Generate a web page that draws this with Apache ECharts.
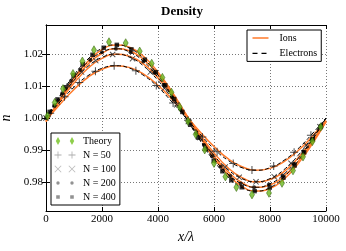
<!DOCTYPE html>
<html><head><meta charset="utf-8">
<script src="https://cdn.jsdelivr.net/npm/echarts@6/dist/echarts.min.js"></script>
<style>html,body{margin:0;padding:0;background:#fff}#c{width:346px;height:251px}</style>
</head><body><div id="c"></div>
<script>
// ---- data ----
const xGrid = [0,500,1000,1500,2000,2500,3000,3500,4000,4500,5000,5500,6000,6500,7000,7500,8000,8500,9000,9500,10000];

const electronsN50  = [1.0000,1.0050,1.0096,1.0132,1.0155,1.0163,1.0155,1.0132,1.0096,1.0050,1.0000,0.9950,0.9904,0.9868,0.9845,0.9837,0.9845,0.9868,0.9904,0.9950,1.0000];
const electronsN100 = [1.0000,1.0061,1.0117,1.0161,1.0189,1.0199,1.0189,1.0161,1.0117,1.0061,1.0000,0.9939,0.9883,0.9839,0.9811,0.9801,0.9811,0.9839,0.9883,0.9939,1.0000];
const electronsN200 = [1.0000,1.0067,1.0127,1.0175,1.0205,1.0216,1.0205,1.0175,1.0127,1.0067,1.0000,0.9933,0.9873,0.9825,0.9795,0.9784,0.9795,0.9825,0.9873,0.9933,1.0000];
const electronsN400 = [1.0000,1.0070,1.0134,1.0184,1.0217,1.0228,1.0217,1.0184,1.0134,1.0070,1.0000,0.9930,0.9866,0.9816,0.9783,0.9772,0.9783,0.9816,0.9866,0.9930,1.0000];

const ionsN50  = [0.9992,1.0043,1.0089,1.0127,1.0152,1.0163,1.0157,1.0136,1.0102,1.0058,1.0008,0.9957,0.9911,0.9873,0.9848,0.9837,0.9843,0.9864,0.9898,0.9942,0.9992];
const ionsN100 = [0.9990,1.0052,1.0109,1.0155,1.0186,1.0199,1.0192,1.0167,1.0125,1.0071,1.0010,0.9948,0.9891,0.9845,0.9814,0.9801,0.9808,0.9833,0.9875,0.9929,0.9990];
const ionsN200 = [0.9989,1.0056,1.0118,1.0168,1.0202,1.0216,1.0209,1.0181,1.0136,1.0077,1.0011,0.9944,0.9882,0.9832,0.9798,0.9784,0.9791,0.9819,0.9864,0.9923,0.9989];
const ionsN400 = [0.9989,1.0059,1.0125,1.0177,1.0213,1.0228,1.0220,1.0191,1.0143,1.0082,1.0011,0.9941,0.9875,0.9823,0.9787,0.9772,0.9780,0.9809,0.9857,0.9918,0.9989];

const theoryX = [50,311,607,964,1300,1714,2250,2846,3346,3775,4157,4479,4775,5071,5346,5668,6000,6407,6800,7357,7964,8429,8821,9179,9514,9811];
const theoryY = [1.0006,1.0048,1.0091,1.0138,1.0177,1.0212,1.0237,1.0234,1.0208,1.0170,1.0126,1.0080,1.0034,0.9990,0.9949,0.9901,0.9859,0.9817,0.9784,0.9761,0.9766,0.9797,0.9836,0.9879,0.9927,0.9972];

const markN50X = [150,662,1189,1765,2434,3210,3939,4539,5072,5584,6111,6687,7356,8132,8861,9461];
const markN50Y = [1.0015,1.0066,1.0111,1.0146,1.0163,1.0147,1.0101,1.0047,0.9993,0.9941,0.9895,0.9858,0.9838,0.9850,0.9893,0.9946];
const markN100X = [0,408,825,1272,1777,2381,3091,3724,4229,4670,5084,5496,5907,6400,6900,7500,8150,8750,9300,9780];
const markN100Y = [1.0000,1.0050,1.0099,1.0143,1.0179,1.0198,1.0185,1.0143,1.0093,1.0041,0.9989,0.9939,0.9893,0.9847,0.9815,0.9801,0.9817,0.9859,0.9915,0.9973];
const markN200X = [0,290,580,890,1220,1580,2000,2500,3020,3480,3870,4200,4510,4800,5080,5360,5640,5930,6240,6580,6960,7430,7960,8450,8850,9190,9500,9790];
const markN200Y = [1.0000,1.0039,1.0077,1.0115,1.0150,1.0181,1.0205,1.0216,1.0205,1.0176,1.0141,1.0104,1.0065,1.0027,0.9989,0.9952,0.9916,0.9881,0.9848,0.9819,0.9796,0.9784,0.9793,0.9821,0.9857,0.9895,0.9933,0.9972];
const markN400X = [130,410,695,990,1310,1660,2060,2530,3050,3530,3920,4260,4580,4870,5150,5430,5700,5990,6300,6620,6990,7450,7990,8480,8880,9220,9530,9820];
const markN400Y = [1.0019,1.0058,1.0096,1.0133,1.0167,1.0197,1.0219,1.0228,1.0214,1.0182,1.0143,1.0102,1.0059,1.0019,0.9979,0.9939,0.9903,0.9867,0.9834,0.9806,0.9784,0.9772,0.9783,0.9814,0.9852,0.9893,0.9934,0.9974];

const xTicks = [0,2000,4000,6000,8000,10000];
const yTicks = [0.98,0.99,1.00,1.01,1.02];

// ---- chart ----
const FONT = "'Liberation Serif','DejaVu Serif',serif";
const ORANGE = '#ff7a2a';
const pair = (xs, ys) => xs.map((x, i) => [x, ys[i]]);
const gridPair = ys => xGrid.map((x, i) => [x, ys[i]]);

const PLUS = 'path://M3.5,0h1v8h-1z M0,3.5h8v1h-8z';

const ionsSets = [ionsN50, ionsN100, ionsN200, ionsN400];
const elecSets = [electronsN50, electronsN100, electronsN200, electronsN400];

const series = [];
ionsSets.forEach(ys => series.push({
  type: 'line', name: 'Ions', data: gridPair(ys), smooth: 0.5, symbol: 'none',
  color: ORANGE, lineStyle: {color: ORANGE, width: 1.5}, z: 2, silent: true
}));
elecSets.forEach(ys => series.push({
  type: 'line', name: 'Electrons', data: gridPair(ys), smooth: 0.5, symbol: 'none',
  color: '#000', lineStyle: {color: '#000', width: 1, type: [4, 2.5]}, z: 3, silent: true
}));
series.push({type: 'scatter', name: 'N = 50', data: pair(markN50X, markN50Y), symbol: PLUS, symbolSize: 8,
  itemStyle: {color: '#222'}, z: 4, silent: true});
series.push({type: 'scatter', name: 'N = 100', data: pair(markN100X, markN100Y), symbol: PLUS, symbolSize: 7.5, symbolRotate: 45,
  itemStyle: {color: '#222'}, z: 4, silent: true});
series.push({type: 'scatter', name: 'N = 200', data: pair(markN200X, markN200Y), symbol: 'circle', symbolSize: 4,
  itemStyle: {color: '#000'}, z: 4, silent: true});
series.push({type: 'scatter', name: 'N = 400', data: pair(markN400X, markN400Y), symbol: 'rect', symbolSize: 4.5,
  itemStyle: {color: '#000'}, z: 4, silent: true});
series.push({type: 'scatter', name: 'Theory', data: pair(theoryX, theoryY), symbol: 'diamond', symbolSize: [5, 8.5],
  itemStyle: {color: '#6cb81e', borderColor: '#2d5a06', borderWidth: 0.6}, z: 5, silent: true});

const B1 = 'M0,0M16,12';
const B2 = 'M0,0M22,8';
const legendText = {fontFamily: FONT, fontSize: 10, color: '#000', lineHeight: 12};

const option = {
  animation: false,
  backgroundColor: '#fff',
  title: {text: 'Density', left: 161, top: 5, padding: 0,
    textStyle: {fontFamily: FONT, fontWeight: 'bold', fontSize: 13, color: '#000'}},
  grid: {left: 46, right: 20, top: 25, bottom: 40, containLabel: false, outerBoundsMode: 'none'},
  xAxis: [{
    type: 'value', min: 0, max: 10000, interval: 2000,
    name: 'x/λ', nameLocation: 'middle', nameGap: 18,
    nameTextStyle: {fontFamily: FONT, fontStyle: 'italic', fontSize: 14, color: '#000'},
    axisLine: {show: true, lineStyle: {color: '#000', width: 1}},
    axisTick: {show: true, inside: true, length: 4, lineStyle: {color: '#000'}},
    axisLabel: {fontFamily: FONT, fontSize: 11, color: '#000', margin: 3, formatter: v => String(v)},
    splitLine: {show: true, lineStyle: {color: '#777', width: 1, type: [1, 2]}}
  }, {
    type: 'value', min: 0, max: 10000, interval: 2000, position: 'top',
    axisLine: {show: true, lineStyle: {color: '#000', width: 1}},
    axisTick: {show: true, inside: true, length: 4, lineStyle: {color: '#000'}},
    axisLabel: {show: false}, splitLine: {show: false}
  }],
  yAxis: [{
    type: 'value', min: 0.971, max: 1.029,
    name: 'n', nameLocation: 'middle', nameGap: 24, nameRotate: 90,
    nameTextStyle: {fontFamily: FONT, fontStyle: 'italic', fontSize: 14, color: '#000'},
    axisLine: {show: true, lineStyle: {color: '#000', width: 1}},
    axisTick: {show: true, inside: true, length: 4, customValues: yTicks, lineStyle: {color: '#000'}},
    axisLabel: {fontFamily: FONT, fontSize: 11, color: '#000', margin: 3, customValues: yTicks,
      formatter: v => Number(v).toFixed(2)},
    splitLine: {show: true, lineStyle: {color: '#777', width: 1, type: [1, 2]}}
  }, {
    type: 'value', min: 0.971, max: 1.029, position: 'right',
    axisLine: {show: true, lineStyle: {color: '#000', width: 1}},
    axisTick: {show: true, inside: true, length: 4, customValues: yTicks, lineStyle: {color: '#000'}},
    axisLabel: {show: false}, splitLine: {show: false}
  }],
  legend: [{
    orient: 'vertical', left: 247, top: 30,
    itemWidth: 16, itemHeight: 12, itemGap: 3.4, padding: [2, 4, 2, 5.5],
    borderColor: '#000', borderWidth: 1, backgroundColor: '#fff', borderRadius: 0,
    textStyle: Object.assign({padding: [0, 0, 0, 6]}, legendText),
    selectedMode: false,
    data: [
      {name: 'Ions', icon: 'path://' + B1 + 'M0,5.25h16v1.5h-16z', itemStyle: {color: ORANGE, borderWidth: 0}},
      {name: 'Electrons', icon: 'path://' + B1 + 'M0,5.4h5v1.2h-5z M9,5.4h5v1.2h-5z', itemStyle: {color: '#000', borderWidth: 0}}
    ]
  }, {
    orient: 'vertical', left: 51, top: 133,
    itemWidth: 22, itemHeight: 8, itemGap: 2, padding: [2, 4, 2, 3],
    borderColor: '#000', borderWidth: 1, backgroundColor: '#fff', borderRadius: 0,
    textStyle: Object.assign({padding: [0, 0, 0, 2]}, legendText),
    selectedMode: false,
    data: [
      {name: 'Theory', icon: 'path://' + B2 + 'M4,0L6.2,4L4,8L1.8,4Z M18,0L20.2,4L18,8L15.8,4Z',
        itemStyle: {color: '#72c21e', borderWidth: 0}},
      {name: 'N = 50', icon: 'path://' + B2 + 'M3.6,0.5h0.8v7h-0.8z M0.5,3.6h7v0.8h-7z M17.6,0.5h0.8v7h-0.8z M14.5,3.6h7v0.8h-7z',
        itemStyle: {color: '#999', borderWidth: 0}},
      {name: 'N = 100', icon: 'path://' + B2 + 'M0.5,1.1L1.1,0.5L7.5,6.9L6.9,7.5Z M6.9,0.5L7.5,1.1L1.1,7.5L0.5,6.9Z M14.5,1.1L15.1,0.5L21.5,6.9L20.9,7.5Z M20.9,0.5L21.5,1.1L15.1,7.5L14.5,6.9Z',
        itemStyle: {color: '#aaa', borderWidth: 0}},
      {name: 'N = 200', icon: 'path://' + B2 + 'M2.3,4a1.7,1.7 0 1,0 3.4,0a1.7,1.7 0 1,0 -3.4,0Z M16.3,4a1.7,1.7 0 1,0 3.4,0a1.7,1.7 0 1,0 -3.4,0Z',
        itemStyle: {color: '#777', borderWidth: 0}},
      {name: 'N = 400', icon: 'path://' + B2 + 'M2.2,2.2h3.6v3.6h-3.6z M16.2,2.2h3.6v3.6h-3.6z',
        itemStyle: {color: '#777', borderWidth: 0}}
    ]
  }],
  series: series
};
series.forEach(s => { s.xAxisIndex = 0; s.yAxisIndex = 0; });
const chart = echarts.init(document.getElementById('c'), null, {renderer: 'canvas'});
chart.setOption(option);
</script>
</body></html>
